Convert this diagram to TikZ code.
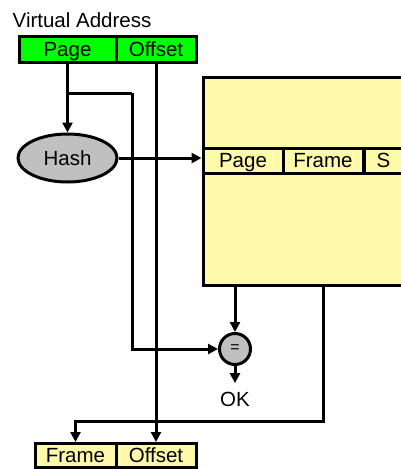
\documentclass[tikz,border=0pt]{standalone}
\usepackage{fontspec}
\setmainfont{Liberation Sans}
\usetikzlibrary{arrows.meta,shapes.geometric}
\definecolor{addrgreen}{RGB}{0,255,0}
\definecolor{tblyellow}{RGB}{255,250,170}
\definecolor{hashgray}{RGB}{192,192,192}
\tikzset{
  wire/.style={line width=3pt},
  arr/.style={wire,-{Triangle[length=10pt,width=10pt]}},
  txt/.style={font=\fontsize{20.5}{23}\selectfont,text height=14.7pt,text depth=0pt},
  field/.style={txt,draw,line width=3pt,minimum height=#1,inner sep=0pt}
}
\begin{document}
\begin{tikzpicture}[x=1pt,y=-1pt]
  \useasboundingbox (0,0) rectangle (400,469);
  % virtual address
  \node[txt,anchor=west,inner sep=0pt] (vlabel) at (12.5,20) {Virtual Address};
  \node[field=26pt,fill=addrgreen,minimum width=97pt] (vpage) at (67.5,49) {Page};
  \node[field=26pt,fill=addrgreen,minimum width=80pt] (voff) at (156,49) {Offset};
  % hash and table
  \node[txt,draw,line width=3pt,ellipse,fill=hashgray,minimum width=99pt,
    minimum height=48pt,inner sep=0pt] (hash) at (67.5,158) {Hash};
  \node[draw,line width=3pt,fill=tblyellow,minimum width=240pt,
    minimum height=208pt] (tbl) at (323,181) {};
  \node[field=25pt,fill=tblyellow,minimum width=80pt] (tpage) at (243,160.5) {Page};
  \node[field=25pt,fill=tblyellow,minimum width=80pt] (tframe) at (323,160.5) {Frame};
  \node[field=25pt,fill=tblyellow,text width=56pt,inner xsep=12pt,align=left,
    anchor=west] (ts) at (363,160.5) {S};
  % compare
  \node[draw,line width=3pt,circle,fill=hashgray,minimum size=31pt,inner sep=0pt,
    font=\fontsize{16}{18}\selectfont] (eq) at (235,349) {=};
  \node[txt] (ok) at (235,399) {OK};
  % physical address
  \node[field=24pt,fill=tblyellow,minimum width=81pt] (pframe) at (75.5,455.5) {Frame};
  \node[field=24pt,fill=tblyellow,minimum width=80pt] (poff) at (156,455.5) {Offset};
  % connectors
  \coordinate (br) at (67.5,93);
  \coordinate (bend) at (132,93);
  \coordinate (jog) at (323,421);
  \draw[arr] (vpage.south) -- (hash.north);
  \draw[wire] (br) -- (bend);
  \draw[arr] (bend) |- (eq.west);
  \draw[arr] (voff.south) -- (poff.north);
  \draw[arr] (hash.east) -- (hash.east -| tbl.west);
  \draw[arr] (eq.north |- tbl.south) -- (eq.north);
  \draw[arr,shorten >=5pt] (eq.south) -- (ok.north);
  \draw[arr] (tbl.south) -- (jog) -| (pframe.north);
\end{tikzpicture}
\end{document}
